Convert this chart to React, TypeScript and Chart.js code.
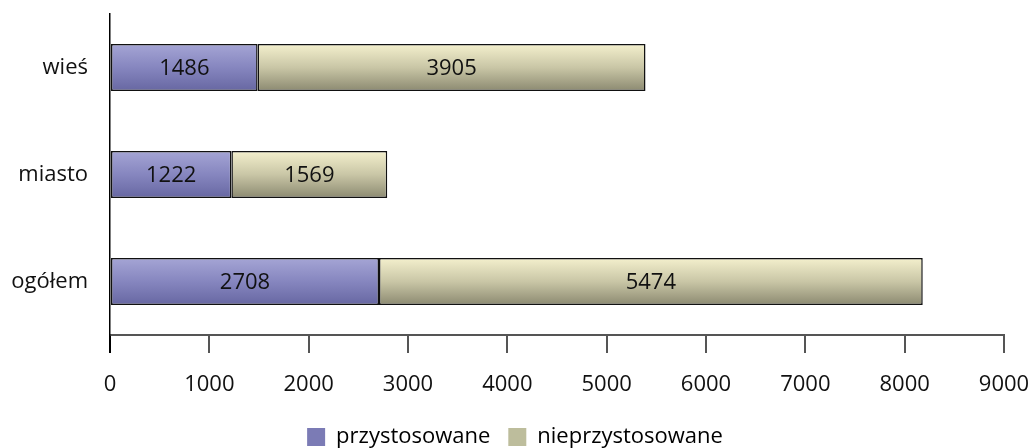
import React, { useEffect, useRef } from "react";
import { Chart, registerables } from "chart.js";

Chart.register(...registerables);

const categories = ["wieś", "miasto", "ogółem"];
const adapted = [1486, 1222, 2708];
const notAdapted = [3905, 1569, 5474];
const seriesNames = ["przystosowane", "nieprzystosowane"];
const xTicks = [0, 1000, 2000, 3000, 4000, 5000, 6000, 7000, 8000, 9000];

const FONT = "'Open Sans', sans-serif";
const FS = 22;
const BAR_PCT = 0.44;
const LEGEND_SHIFT = 13;

const gradStops: string[][] = [
  ["#a5a5d5", "#8686bf", "#6767a2"],
  ["#f4f0cd", "#c9c6a6", "#8c8a71"],
];
const legendColors = ["#7b7bb5", "#bdbd9c"];

function makeBg(series: number) {
  return (c: any) => {
    const chart = c.chart;
    const y = chart.scales?.y;
    if (!y || c.dataIndex === undefined) return gradStops[series][1];
    const cy = y.getPixelForValue(c.dataIndex);
    const h = ((y.bottom - y.top) / categories.length) * BAR_PCT;
    const g = chart.ctx.createLinearGradient(0, cy - h / 2, 0, cy + h / 2);
    g.addColorStop(0, gradStops[series][0]);
    g.addColorStop(0.5, gradStops[series][1]);
    g.addColorStop(1, gradStops[series][2]);
    return g;
  };
}

const valueLabels = {
  id: "valueLabels",
  afterDatasetsDraw(chart: any) {
    const ctx = chart.ctx;
    ctx.save();
    ctx.font = `${FS}px ${FONT}`;
    ctx.fillStyle = "#111";
    ctx.textAlign = "center";
    ctx.textBaseline = "middle";
    chart.data.datasets.forEach((ds: any, i: number) => {
      const meta = chart.getDatasetMeta(i);
      meta.data.forEach((bar: any, j: number) => {
        const x = (bar.x + bar.base) / 2;
        ctx.fillText(String(ds.data[j]), x, bar.y + 1);
      });
    });
    ctx.restore();
  },
};

const legendShift = {
  id: "legendShift",
  afterLayout(chart: any) {
    const lg = chart.legend;
    if (lg) {
      lg.left += LEGEND_SHIFT;
      lg.right += LEGEND_SHIFT;
    }
  },
};

export default function App() {
  const ref = useRef<HTMLCanvasElement | null>(null);
  useEffect(() => {
    if (!ref.current) return;
    const chart = new Chart(ref.current, {
      type: "bar",
      data: {
        labels: categories,
        datasets: [
          {
            label: seriesNames[0],
            data: adapted,
            backgroundColor: makeBg(0),
            borderColor: "#111",
            borderWidth: 1.5,
            borderSkipped: false,
            categoryPercentage: 1,
            barPercentage: BAR_PCT,
          },
          {
            label: seriesNames[1],
            data: notAdapted,
            backgroundColor: makeBg(1),
            borderColor: "#111",
            borderWidth: 1.5,
            borderSkipped: false,
            categoryPercentage: 1,
            barPercentage: BAR_PCT,
          },
        ],
      },
      options: {
        indexAxis: "y",
        animation: false,
        responsive: true,
        maintainAspectRatio: false,
        layout: { padding: { top: 14, right: 29, left: 0, bottom: -10 } },
        plugins: {
          tooltip: { enabled: false },
          legend: {
            position: "bottom",
            labels: {
              font: { family: FONT, size: FS },
              color: "#111",
              boxWidth: 18,
              boxHeight: 18,
              padding: 18,
              generateLabels: () =>
                seriesNames.map((n, i) => ({
                  text: n,
                  fillStyle: legendColors[i],
                  strokeStyle: legendColors[i],
                  lineWidth: 0,
                  datasetIndex: i,
                  hidden: false,
                })),
            },
          },
        },
        scales: {
          x: {
            stacked: true,
            min: 0,
            max: 9000,
            afterBuildTicks: (s: any) => {
              s.ticks = xTicks.map((v) => ({ value: v }));
            },
            afterFit: (s: any) => {
              s.height = 73;
              s.paddingLeft = 0;
              s.paddingRight = 0;
            },
            ticks: {
              font: { family: FONT, size: FS },
              color: "#111",
              padding: 19,
              maxRotation: 0,
              callback: (v: any) => String(v),
            },
            grid: {
              drawOnChartArea: false,
              drawTicks: true,
              tickLength: 18,
              lineWidth: 2,
              color: (c: any) => (c.index === 0 ? "#000" : "#555"),
            },
            border: { display: true, color: "#555", width: 2 },
          },
          y: {
            stacked: true,
            afterFit: (s: any) => {
              s.width = 110;
              s.paddingTop = 0;
              s.paddingBottom = 0;
            },
            ticks: {
              font: { family: FONT, size: FS },
              color: "#111",
              padding: 22,
            },
            grid: { display: false, drawTicks: false },
            border: { display: true, color: "#000", width: 1.5 },
          },
        },
      },
      plugins: [valueLabels, legendShift],
    });
    return () => chart.destroy();
  }, []);
  return (
    <div style={{ position: "absolute", left: 0, top: 0, width: 1033, height: 448 }}>
      <canvas ref={ref} />
    </div>
  );
}
